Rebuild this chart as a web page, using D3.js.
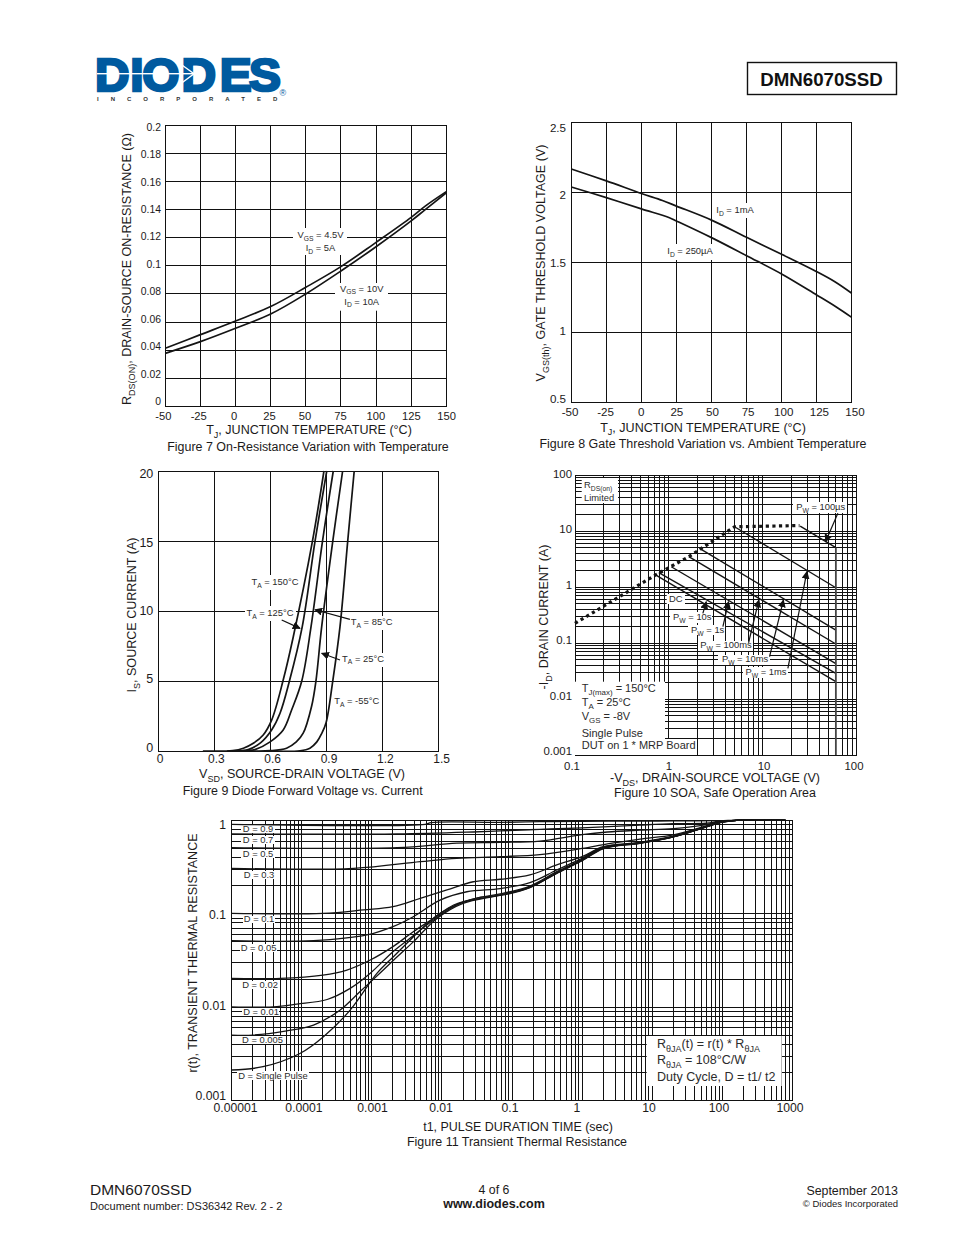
<!DOCTYPE html>
<html><head><meta charset="utf-8">
<script src="https://cdn.jsdelivr.net/npm/d3@7"></script>
<style>
html,body{margin:0;padding:0;background:#fff}
svg{display:block;font-family:"Liberation Sans",Arial,sans-serif}
</style></head><body><svg id="page" width="954" height="1235" viewBox="0 0 954 1235"></svg>
<script>
// ---------- DATA ----------
const fig7Temp = [-50,-25,0,25,50,75,100,125,135,150];
const fig7Vgs45 = [0.0413,0.051,0.0607,0.071,0.0847,0.0994,0.1167,0.1345,0.1425,0.1528];
const fig7Vgs10 = [0.0377,0.046,0.0555,0.0657,0.08,0.0963,0.1136,0.132,0.14,0.152];
const fig7XTicks = [-50,-25,0,25,50,75,100,125,150];
const fig7YTicks = [0,0.02,0.04,0.06,0.08,0.1,0.12,0.14,0.16,0.18,0.2];

const fig8Temp1 = [-50,-25,0,15,25,50,75,100,125,138,150];
const fig8Id1mA = [2.165,2.08,1.99,1.94,1.90,1.80,1.677,1.556,1.432,1.36,1.278];
const fig8Temp2 = [-50,-25,0,20,25,50,75,100,125,139,150];
const fig8Id250 = [2.036,1.96,1.88,1.817,1.794,1.675,1.546,1.416,1.266,1.18,1.106];
const fig8XTicks = fig7XTicks;
const fig8YTicks = [0.5,1,1.5,2,2.5];

const fig9T150 = {v:[0.24,0.40,0.457,0.51,0.563,0.608,0.67,0.724,0.826,0.888], i:[0,0.03,0.2,0.55,1.14,2.2,5.07,8.16,14.95,20]};
const fig9T125 = {v:[0.37,0.45,0.483,0.55,0.608,0.653,0.703,0.772,0.84,0.903], i:[0,0.03,0.1,0.6,1.5,2.7,4.98,8.88,14.95,20]};
const fig9T85 = {v:[0.40,0.48,0.519,0.60,0.67,0.715,0.769,0.819,0.88,0.938], i:[0,0.03,0.1,0.65,1.5,2.93,4.98,8.88,14.95,20]};
const fig9T25 = {v:[0.50,0.60,0.688,0.74,0.777,0.822,0.845,0.876,0.935,0.988], i:[0,0.02,0.2,0.65,1.27,3.2,4.98,8.88,14.95,20]};
const fig9TM55 = {v:[0.60,0.76,0.813,0.85,0.876,0.899,0.935,0.974,1.015,1.05], i:[0,0.02,0.2,0.65,1.25,2,4.98,8.88,14.95,20]};
const fig9XTicks = [0,0.3,0.6,0.9,1.2,1.5];
const fig9YTicks = [0,5,10,15,20];
const fig9Arrows = [[0.662,9.36,0.76,8.76],[1.027,9.4,0.84,10.09],[0.974,6.5,0.876,6.98]];

const fig10Limit = [[0.1,0.224],[0.72,1.64],[1.63,3.48],[5,11.9],[24.6,12.5]];
const fig10Pw100us = [[25,12.2],[60,5.04]];
const fig10Pw1ms = [[5,11.9],[60,0.97]];
const fig10Pw10ms = [[2.12,4.9],[60,0.17]];
const fig10Pw100ms = [[1.63,3.48],[60,0.096]];
const fig10Pw1s = [[1.06,2.3],[60,0.043]];
const fig10Pw10s = [[0.78,1.8],[60,0.0287]];
const fig10Dc = [[0.72,1.64],[60,0.0204]];
const fig10VdsMax = [[60,5.04],[60,0.001]];
const fig10Arrows = [[63,20.7,46.6,6.45],[18.5,0.0353,29.5,1.88],[11.8,0.057,16.6,0.586],[7.05,0.101,9.09,0.586],[3.76,0.196,4.32,0.547],[2.3,0.339,2.5,0.547]];
const fig10XTicks = [0.1,1,10,100];
const fig10YTicks = [0.001,0.01,0.1,1,10,100];

const d90 = [[1e-5,0.906],[0.0058,0.906],[0.007,0.945],[0.068,0.95],[0.25,0.966],[1,0.975],[6.7,0.98],[20,0.985],[93,0.99],[160,1],[800,1]];
const d70 = [[1e-5,0.714],[0.0023,0.714],[0.028,0.75],[0.068,0.77],[0.25,0.8],[1,0.83],[6.7,0.89],[20,0.92],[59,0.93],[93,0.98],[160,1],[800,1]];
const d50 = [[1e-5,0.51],[0.0023,0.51],[0.0163,0.57],[0.068,0.58],[0.25,0.6],[1,0.703],[2.3,0.75],[6.7,0.785],[20,0.815],[59,0.9],[93,0.97],[160,1],[800,1]];
const d30 = [[1e-5,0.306],[0.00055,0.306],[0.0049,0.361],[0.0163,0.392],[0.068,0.408],[0.25,0.43],[1,0.5],[2.3,0.56],[6.7,0.63],[20,0.70],[59,0.87],[93,0.96],[160,1],[800,1]];
const d10 = [[1e-5,0.101],[0.0002,0.101],[0.00076,0.11],[0.002,0.119],[0.0049,0.146],[0.0118,0.18],[0.028,0.22],[0.068,0.234],[0.18,0.26],[0.435,0.333],[1,0.408],[2,0.522],[6.7,0.58],[20,0.675],[60,0.86],[93,0.96],[160,1],[800,1]];
const d05 = [[1e-5,0.0515],[0.000147,0.0515],[0.00085,0.0593],[0.002,0.0728],[0.0039,0.093],[0.0094,0.14],[0.0227,0.172],[0.068,0.186],[0.18,0.215],[0.435,0.294],[1,0.392],[2,0.514],[6.7,0.575],[20,0.67],[60,0.857],[93,0.955],[160,1],[800,1]];
const d02 = [[1e-5,0.0204],[0.000049,0.0204],[0.0002,0.0221],[0.00044,0.025],[0.00095,0.032],[0.002,0.0445],[0.0039,0.0643],[0.0076,0.0893],[0.0147,0.124],[0.035,0.15],[0.068,0.163],[0.18,0.198],[0.435,0.282],[1,0.382],[2,0.51],[6.7,0.572],[20,0.668],[60,0.855],[93,0.95],[160,1],[800,1]];
const d01 = [[1e-5,0.0101],[0.000039,0.0101],[0.000085,0.0108],[0.00023,0.0121],[0.00049,0.0159],[0.00095,0.0231],[0.002,0.0393],[0.0035,0.0546],[0.0076,0.0858],[0.018,0.129],[0.068,0.159],[0.18,0.194],[0.435,0.275],[1,0.375],[2,0.505],[6.7,0.57],[20,0.665],[60,0.853],[93,0.948],[160,1],[800,1]];
const d005 = [[1e-5,0.00504],[0.00002,0.00504],[0.000061,0.0056],[0.000147,0.00645],[0.00035,0.0093],[0.00068,0.0147],[0.0013,0.0231],[0.0023,0.0347],[0.0039,0.05],[0.0085,0.089],[0.02,0.129],[0.068,0.158],[0.18,0.192],[0.435,0.272],[1,0.372],[2,0.5],[6.7,0.57],[20,0.665],[60,0.853],[93,0.945],[160,1],[800,1]];
const dSingle = [[1e-5,0.00213],[0.000028,0.00231],[0.000094,0.0032],[0.000204,0.00484],[0.00049,0.0093],[0.00118,0.023],[0.00203,0.0347],[0.00316,0.0483],[0.0055,0.0728],[0.0094,0.101],[0.018,0.129],[0.035,0.15],[0.068,0.157],[0.18,0.19],[0.435,0.271],[1,0.37],[2,0.495],[6.7,0.568],[20,0.665],[43,0.8],[60,0.855],[93,0.945],[160,1],[800,1]];
const fig11Series = [d90,d70,d50,d30,d10,d05,d02,d01,d005,dSingle];
const fig11XTicks = [1e-5,1e-4,1e-3,1e-2,1e-1,1,10,100,1000];
const fig11XLabels = ["0.00001","0.0001","0.001","0.01","0.1","1","10","100","1000"];
const fig11YTicks = [0.001,0.01,0.1,1];

// ---------- HELPERS ----------
const INK = "#1c1a1a", LBL = "#2b2b2b";
const svg = d3.select("#page");

function rich(parent, x, y, str, size, anchor, color, extra) {
  const t = parent.append("text").attr("x", x).attr("y", y)
    .attr("font-size", size).attr("text-anchor", anchor || "start").attr("fill", color || INK);
  if (extra) for (const k in extra) t.attr(k, extra[k]);
  const parts = str.split(/_\{([^}]*)\}/);
  let pending = 0;
  parts.forEach((p, i) => {
    if (!p) return;
    const isSub = i % 2 === 1;
    const ts = t.append("tspan").text(p);
    if (isSub) {
      ts.attr("font-size", size * 0.72).attr("dy", size * 0.28);
      pending = -size * 0.28;
    } else if (pending) {
      ts.attr("dy", pending); pending = 0;
    }
  });
  return t;
}

function panel(cfg) {
  const g = svg.append("g");
  const {x, y, box} = cfg;
  const [L, R, T, B] = box;
  const w = R - L, h = B - T;
  const gx = g.append("g").attr("transform", `translate(0,${B})`)
    .call(d3.axisBottom(x).tickValues(cfg.gridX).tickSize(-h).tickFormat("").offset(0));
  const gy = g.append("g").attr("transform", `translate(${L},0)`)
    .call(d3.axisLeft(y).tickValues(cfg.gridY).tickSize(-w).tickFormat("").offset(0));
  [gx, gy].forEach(a => {
    a.select(".domain").remove();
    a.selectAll("line").attr("stroke", "#111").attr("stroke-width", 1)
      .attr("shape-rendering", "crispEdges");
  });
  g.append("rect").attr("x", L).attr("y", T).attr("width", w).attr("height", h)
    .attr("fill", "none").attr("stroke", "#111").attr("stroke-width", 1).attr("shape-rendering", "crispEdges");

  const ax = g.append("g").attr("transform", `translate(0,${cfg.xLabelBase})`)
    .call(d3.axisBottom(cfg.labelX).tickValues(cfg.xTicks).tickSize(0).tickPadding(0).tickFormat(cfg.xFmt || (d => d)).offset(0));
  const ay = g.append("g").attr("transform", `translate(${cfg.yLabelRight},0)`)
    .call(d3.axisLeft(cfg.labelY).tickValues(cfg.yTicks).tickSize(0).tickPadding(0).tickFormat(cfg.yFmt || (d => d)).offset(0));
  [[ax, cfg.xSize], [ay, cfg.ySize]].forEach(([a, fs]) => {
    a.select(".domain").remove();
    a.attr("font-family", null).attr("font-size", fs);
    a.selectAll("text").attr("dy", 0).attr("y", 0).attr("x", 0).attr("fill", INK);
  });
  return g;
}

function labels(g, list, size) {
  list.forEach(o => {
    (o.boxes || (o.box ? [o.box] : [])).forEach(b => {
      g.append("rect").attr("x", b[0]).attr("y", b[1])
        .attr("width", b[2] - b[0]).attr("height", b[3] - b[1]).attr("fill", "#fff");
    });
  });
  list.forEach(o => {
    (o.lines || []).forEach(l => rich(g, l[0], l[1], l[2], o.size || size, o.anchor || "middle", LBL));
  });
}

function titles(cfg) {
  rich(svg, cfg.xt[0], cfg.xt[1], cfg.xt[2], cfg.xt[3] || 12.55, "middle");
  rich(svg, cfg.cap[0], cfg.cap[1], cfg.cap[2], cfg.cap[3] || 12.45, "middle");
  const yt = cfg.yt;
  rich(svg, 0, 0, yt[2], yt[3] || 12.55, "middle", INK, {transform: `translate(${yt[0]},${yt[1]}) rotate(-90)`});
}

svg.append("defs").append("marker").attr("id", "ah")
  .attr("markerUnits", "userSpaceOnUse").attr("viewBox", "0 0 10 10")
  .attr("refX", 9).attr("refY", 5).attr("markerWidth", 8).attr("markerHeight", 8).attr("orient", "auto")
  .append("path").attr("d", "M0,0L10,5L0,10Z").attr("fill", "#111");

function arrows(g, list, x, y) {
  list.forEach(a => g.append("line")
    .attr("x1", x(a[0])).attr("y1", y(a[1])).attr("x2", x(a[2])).attr("y2", y(a[3]))
    .attr("stroke", "#111").attr("stroke-width", 1.2).attr("marker-end", "url(#ah)"));
}
function curve(g, pts, x, y, w, gen) {
  return g.append("path")
    .attr("d", d3.line().x(d => x(d[0])).y(d => y(d[1])).curve(gen || d3.curveCatmullRom.alpha(0.5))(pts))
    .attr("fill", "none").attr("stroke", "#141414").attr("stroke-width", w || 1.7);
}
const zip = (a, b) => a.map((v, i) => [v, b[i]]);

// ---------- FIG 7 ----------
{
  const box = [165.3, 446.3, 125.3, 406.3];
  const x = d3.scaleLinear().domain([-50,150]).range([box[0], box[1]]);
  const y = d3.scaleLinear().domain([0,0.2]).range([box[3], box[2]]);
  const g = panel({box, x, y, gridX: fig7XTicks, gridY: fig7YTicks, xTicks: fig7XTicks, yTicks: fig7YTicks,
    labelX: d3.scaleLinear().domain([-50,150]).range([163.3,446.7]),
    labelY: d3.scaleLinear().domain([0,0.2]).range([405,130.7]),
    xLabelBase: 420, yLabelRight: 161, xSize: 11.2, ySize: 10.4});
  labels(g, [
    {box:[293,228,347,255], lines:[[320.5,238,"V_{GS} = 4.5V"],[320.5,251,"I_{D} = 5A"]]},
    {box:[335,283,388,310.7], lines:[[361.7,291.7,"V_{GS} = 10V"],[361.7,304.5,"I_{D} = 10A"]]}
  ], 9.4);
  curve(g, zip(fig7Temp, fig7Vgs45), x, y);
  curve(g, zip(fig7Temp, fig7Vgs10), x, y);
  titles({xt:[309,434,"T_{J}, JUNCTION TEMPERATURE (°C)"], cap:[308,451,"Figure 7 On-Resistance Variation with Temperature"],
    yt:[131,269,"R_{DS(ON)}, DRAIN-SOURCE ON-RESISTANCE (Ω)"]});
}
// ---------- FIG 8 ----------
{
  const box = [571.3, 851.7, 122, 402.3];
  const x = d3.scaleLinear().domain([-50,150]).range([box[0], box[1]]);
  const y = d3.scaleLinear().domain([0.5,2.5]).range([box[3], box[2]]);
  const g = panel({box, x, y, gridX: fig8XTicks, gridY: fig8YTicks, xTicks: fig8XTicks, yTicks: fig8YTicks,
    labelX: d3.scaleLinear().domain([-50,150]).range([570,855]),
    labelY: d3.scaleLinear().domain([0.5,2.5]).range([402.7,131.7]),
    xLabelBase: 415.7, yLabelRight: 566, xSize: 11.6, ySize: 11.6});
  labels(g, [
    {box:[713,203,757,218], lines:[[735,213,"I_{D} = 1mA"]]},
    {box:[665,244,715,260], lines:[[690,254,"I_{D} = 250µA"]]}
  ], 9.4);
  curve(g, zip(fig8Temp1, fig8Id1mA), x, y);
  curve(g, zip(fig8Temp2, fig8Id250), x, y);
  titles({xt:[703,431.7,"T_{J}, JUNCTION TEMPERATURE (°C)"], cap:[703,447.7,"Figure 8 Gate Threshold Variation vs. Ambient Temperature"],
    yt:[545,263,"V_{GS(th)}, GATE THRESHOLD VOLTAGE (V)"]});
}
// ---------- FIG 9 ----------
{
  const box = [158, 438.3, 471, 751];
  const x = d3.scaleLinear().domain([0,1.5]).range([box[0], box[1]]);
  const y = d3.scaleLinear().domain([0,20]).range([box[3], box[2]]);
  const g = panel({box, x, y, gridX: fig9XTicks, gridY: fig9YTicks, xTicks: fig9XTicks, yTicks: fig9YTicks,
    labelX: d3.scaleLinear().domain([0,1.5]).range([160,441.7]),
    labelY: d3.scaleLinear().domain([0,20]).range([751.7,478.3]),
    xLabelBase: 763.3, yLabelRight: 153.3, xSize: 12, ySize: 12.5});
  labels(g, [
    {box:[249,575,301,590], lines:[[275,585,"T_{A} = 150°C"]]},
    {box:[245,606,296,621], lines:[[270,616,"T_{A} = 125°C"]]},
    {box:[348,616,395,630], lines:[[371.7,625,"T_{A} = 85°C"]]},
    {box:[340,653,386,667], lines:[[363,661.7,"T_{A} = 25°C"]]},
    {box:[332,695,382,709], lines:[[356.7,704,"T_{A} = -55°C"]]}
  ], 9.4);
  [fig9T150, fig9T125, fig9T85, fig9T25, fig9TM55].forEach(s => curve(g, zip(s.v, s.i), x, y));
  arrows(g, fig9Arrows, x, y);
  titles({xt:[302,778,"V_{SD}, SOURCE-DRAIN VOLTAGE (V)"], cap:[302.7,795,"Figure 9 Diode Forward Voltage vs. Current"],
    yt:[136,615,"I_{S}, SOURCE CURRENT (A)"]});
}
// ---------- FIG 10 ----------
{
  const box = [575, 856.7, 475, 755];
  const x = d3.scaleLog().domain([0.1,100]).range([box[0], box[1]]);
  const y = d3.scaleLog().domain([0.001,100]).range([box[3], box[2]]);
  const g = panel({box, x, y, gridX: x.ticks(30), gridY: y.ticks(30), xTicks: fig10XTicks, yTicks: fig10YTicks,
    labelX: d3.scaleOrdinal().domain(fig10XTicks).range([572,669,764,854]),
    labelY: d3.scaleLog().domain([0.001,100]).range([755,478]),
    xLabelBase: 770, yLabelRight: 572, xSize: 11.4, ySize: 11.4});
  labels(g, [
    {box:[581.7,478,618,503], anchor:"start", lines:[[584,488,"R_{DS(on)}"],[584,500.7,"Limited"]]},
    {box:[793,502,847,513], lines:[[820.7,510,"P_{W} = 100µs"]]},
    {box:[666.7,594,685,604], lines:[[675.7,602,"DC"]]},
    {box:[670,612,712,623], lines:[[692.3,620,"P_{W} = 10s"]]},
    {box:[688,625,725,635], lines:[[707.7,633,"P_{W} = 1s"]]},
    {box:[698,641,753,651], lines:[[726,648,"P_{W} = 100ms"]]},
    {box:[718,655,770,665], lines:[[745,662,"P_{W} = 10ms"]]},
    {box:[743,667,788,678], lines:[[766,675,"P_{W} = 1ms"]]},
    {boxes:[[575,681.7,665,755],[575,739,697,755]], anchor:"start", size:11, lines:[
      [581.7,691.7,"T_{J(max)} = 150°C"],[581.7,706,"T_{A} = 25°C"],[581.7,720,"V_{GS} = -8V"],[581.7,737,"Single Pulse"],[581.7,749.3,"DUT on 1 * MRP Board"]]}
  ], 9.4);
  const lin = d3.curveLinear;
  curve(g, fig10Limit, x, y, 3.2, lin).attr("stroke-dasharray", "3.2 3.4");
  [fig10Pw100us, fig10Pw1ms, fig10Pw10ms, fig10Pw100ms, fig10Pw1s, fig10Pw10s, fig10Dc].forEach(s => curve(g, s, x, y, 1.4, lin));
  curve(g, fig10VdsMax, x, y, 1.8, lin).attr("stroke", "#444");
  arrows(g, fig10Arrows, x, y);
  titles({xt:[715,782,"-V_{DS}, DRAIN-SOURCE VOLTAGE (V)"], cap:[715,797,"Figure 10 SOA, Safe Operation Area"],
    yt:[548,617,"-I_{D}, DRAIN CURRENT (A)"]});
}
// ---------- FIG 11 ----------
{
  const box = [231.7, 792.3, 820.3, 1100.7];
  const x = d3.scaleLog().domain([1e-5,1000]).range([box[0], box[1]]);
  const y = d3.scaleLog().domain([0.001,1]).range([box[3], box[2]]);
  const fmtX = d => fig11XLabels[fig11XTicks.indexOf(d)];
  const g = panel({box, x, y, gridX: x.ticks(30), gridY: y.ticks(30), xTicks: fig11XTicks, yTicks: fig11YTicks, xFmt: fmtX,
    labelX: d3.scaleOrdinal().domain(fig11XTicks).range([235.5,304,372.5,441,510,577,649,719,790]),
    labelY: d3.scaleLog().domain([0.001,1]).range([1100,829]),
    xLabelBase: 1112, yLabelRight: 226, xSize: 12.2, ySize: 12.2});
  labels(g, [
    {box:[241,825,275,833], lines:[[258,832,"D = 0.9"]]},
    {box:[241,836,275,844], lines:[[258,843,"D = 0.7"]]},
    {box:[241,850,275,858], lines:[[258,857,"D = 0.5"]]},
    {box:[243,871,275,879], lines:[[259,878,"D = 0.3"]]},
    {box:[243,916,275,923], lines:[[259,922,"D = 0.1"]]},
    {box:[240,944,277,952], lines:[[258.5,951,"D = 0.05"]]},
    {box:[242,981,278,989], lines:[[260,988,"D = 0.02"]]},
    {box:[242,1008,279,1016], lines:[[261,1015,"D = 0.01"]]},
    {box:[241,1036,284,1044], lines:[[262.5,1043,"D = 0.005"]]},
    {box:[237,1071,309,1080], lines:[[273,1079,"D = Single Pulse"]]},
    {box:[646.7,1036,781.7,1086], anchor:"start", size:12.5, lines:[
      [657,1048,"R_{θJA}(t) = r(t) * R_{θJA}"],[657,1064,"R_{θJA} = 108°C/W"],[657,1081,"Duty Cycle, D = t1/ t2"]]}
  ], 9.4);
  fig11Series.forEach(s => curve(g, s, x, y, 1.3));
  titles({xt:[518,1131,"t1, PULSE DURATION TIME (sec)",12.45], cap:[517,1146,"Figure 11 Transient Thermal Resistance"],
    yt:[197,953,"r(t), TRANSIENT THERMAL RESISTANCE"]});
}
// ---------- PAGE FURNITURE ----------
{
  const blue = "#005a9f";
  const logo = svg.append("g");
  // one text element, so the tightly set wordmark letters stay a single word
  const letterX = [94.9,130.2,142.2,181.6,219.8,248.9];
  logo.append("text").attr("transform", "translate(0,90.5) scale(1.03,1)")
    .attr("x", letterX.map(v => v / 1.03).join(" ")).attr("y", 0).text("DIODES")
    .attr("font-size", 46.5).attr("font-weight", "bold").attr("fill", blue)
    .attr("stroke", blue).attr("stroke-width", 2.6);
  logo.append("rect").attr("x", 97).attr("y", 73).attr("width", 97).attr("height", 1.4).attr("fill", "#fff");
  logo.append("path").attr("d", "M175,60L194,73.7L175,88").attr("fill", "none").attr("stroke", "#fff").attr("stroke-width", 1.4);
  logo.append("text").attr("x", 97).attr("y", 100.5).text("INCORPORATED")
    .attr("font-size", 6).attr("font-weight", "bold").attr("fill", "#333").attr("letter-spacing", 12);
  logo.append("text").attr("x", 279.5).attr("y", 96).text("®").attr("font-size", 9).attr("fill", blue);

  svg.append("rect").attr("x", 747.5).attr("y", 62.5).attr("width", 149).attr("height", 32)
    .attr("fill", "none").attr("stroke", "#111").attr("stroke-width", 1.4);
  svg.append("text").attr("x", 821.5).attr("y", 85.5).attr("text-anchor", "middle").text("DMN6070SSD")
    .attr("font-size", 18.7).attr("font-weight", "bold").attr("fill", "#111");

  const foot = (x, y, s, size, anchor, bold) => svg.append("text").attr("x", x).attr("y", y).text(s)
    .attr("font-size", size).attr("text-anchor", anchor).attr("fill", INK).attr("font-weight", bold ? "bold" : "normal");
  foot(90, 1195, "DMN6070SSD", 15.5, "start");
  foot(90, 1210, "Document number: DS36342 Rev. 2 - 2", 11, "start");
  foot(494, 1194, "4 of 6", 12.3, "middle");
  foot(494, 1208, "www.diodes.com", 12.5, "middle", true);
  foot(898, 1195, "September 2013", 12.4, "end");
  foot(898, 1207, "© Diodes Incorporated", 9.5, "end");
}
</script></body></html>
